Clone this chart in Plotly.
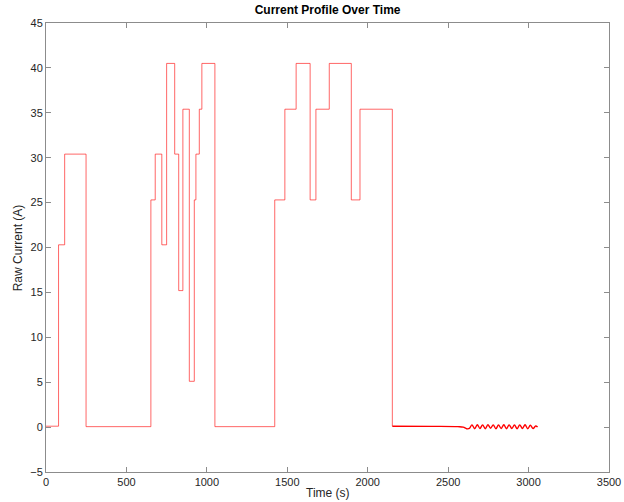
import plotly.graph_objects as go

# Step profile: time at which each level starts (s) and the raw current (A)
step_time = [0, 78, 116, 249, 652, 679, 720, 750, 800, 825, 851, 891, 922, 932,
             953, 969, 1050, 1422, 1485, 1555, 1642, 1678, 1761, 1898, 1952, 2153]
step_current = [0.1, 20.3, 30.4, 0.05, 25.3, 30.4, 20.3, 40.5, 30.4, 15.2, 35.4,
                5.1, 25.3, 30.4, 35.4, 40.5, 0.05, 25.3, 35.4, 40.5, 25.3, 35.4,
                40.5, 25.3, 35.4, 0.1]

# Rest period at the end with small ripple
tail_time = [2153, 2400, 2560, 2594, 2615, 2632, 2648, 2665, 2681, 2698, 2714,
             2731, 2747, 2764, 2780, 2797, 2813, 2830, 2846, 2863, 2879, 2896,
             2912, 2929, 2945, 2962, 2978, 2995, 3011, 3028, 3044, 3056]
tail_current = [0.1, 0.08, 0.05, 0.0, -0.18, -0.15, 0.25, -0.18, 0.27, -0.15, 0.25,
                -0.18, 0.27, -0.12, 0.25, -0.18, 0.23, -0.15, 0.27, -0.18, 0.25,
                -0.15, 0.23, -0.18, 0.25, -0.15, 0.27, -0.18, 0.2, -0.15, 0.12, 0.0]

x_ticks = [0, 500, 1000, 1500, 2000, 2500, 3000, 3500]
y_ticks = [-5, 0, 5, 10, 15, 20, 25, 30, 35, 40, 45]

FONT = "Liberation Sans, Arial, Helvetica, sans-serif"
AXIS_GRAY = "#8c8c8c"
TEXT = "#262626"

fig = go.Figure()
fig.add_trace(go.Scatter(x=step_time, y=step_current, mode="lines",
                         line=dict(color="rgba(255,0,0,0.6)", width=1, shape="hv"),
                         showlegend=False, hoverinfo="x+y"))
fig.add_trace(go.Scatter(x=tail_time, y=tail_current, mode="lines",
                         line=dict(color="red", width=1.4, shape="spline", smoothing=1.0),
                         showlegend=False, hoverinfo="x+y"))

axis_common = dict(
    showgrid=False, zeroline=False, showline=True, linecolor=AXIS_GRAY,
    linewidth=1, mirror="ticks", ticks="inside", ticklen=5, tickcolor=AXIS_GRAY,
    tickwidth=1, automargin=False,
    tickfont=dict(family=FONT, size=11, color=TEXT),
)

fig.update_layout(
    width=624, height=502,
    margin=dict(l=46, r=15, t=23, b=30),
    paper_bgcolor="white", plot_bgcolor="white",
    title=dict(text="<b>Current Profile Over Time</b>", x=0.525, xanchor="center",
               y=0.98, yanchor="middle",
               font=dict(family=FONT, size=12, color="black")),
    xaxis=dict(range=[0, 3500], tickvals=x_ticks, **axis_common),
    yaxis=dict(range=[-5, 45], tickvals=y_ticks, **axis_common),
    annotations=[
        dict(text="Time (s)", xref="paper", yref="paper", x=0.5, y=-0.047,
             xanchor="center", yanchor="middle", showarrow=False,
             font=dict(family=FONT, size=12, color=TEXT)),
        dict(text="Raw Current (A)", xref="paper", yref="paper", x=-0.05, y=0.5,
             xanchor="center", yanchor="middle", textangle=-90, showarrow=False,
             font=dict(family=FONT, size=12, color=TEXT)),
    ],
)

fig.write_html("out.html")
